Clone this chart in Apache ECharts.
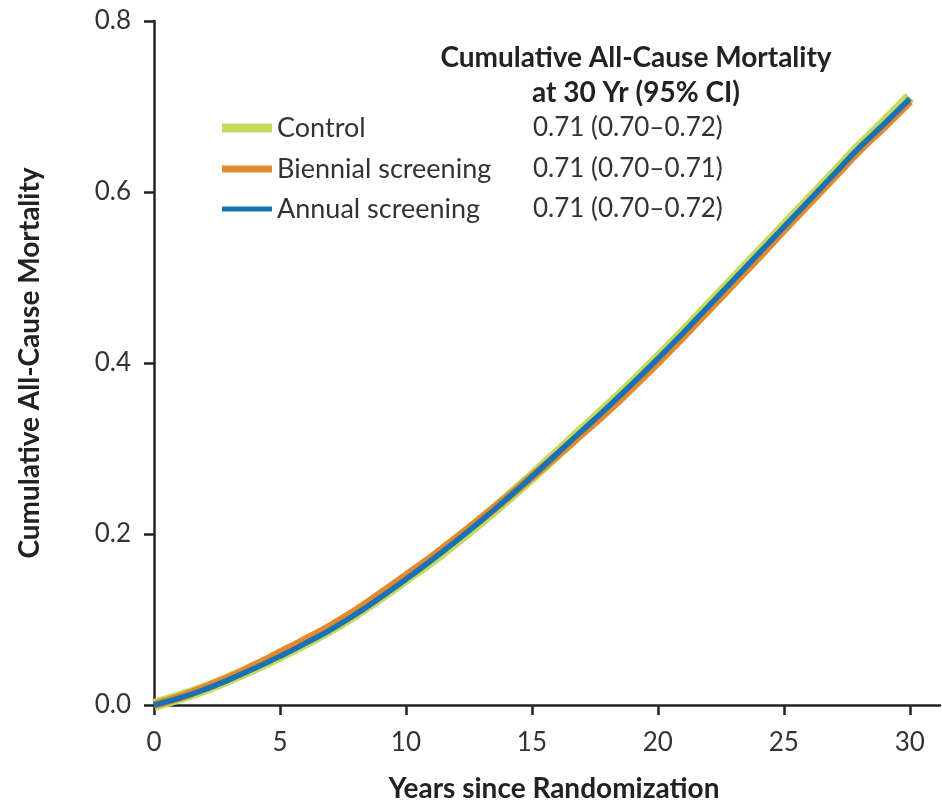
<!DOCTYPE html>
<html>
<head>
<meta charset="utf-8">
<script src="https://cdn.jsdelivr.net/npm/echarts@6/dist/echarts.min.js"></script>
<style>
  html, body { margin: 0; padding: 0; background: #fff; }
  #chart { width: 942px; height: 803px; }
</style>
</head>
<body>
<div id="chart"></div>
<script>
// years since randomization
var years = [0,1,2,3,4,5,6,7,8,9,10,11,12,13,14,15,16,17,18,19,20,21,22,23,24,25,26,27,28,29,30]
var control = [0.000,0.009,0.019,0.031,0.044,0.058,0.073,0.089,0.107,0.127,0.148,0.169,0.192,0.216,0.241,0.267,0.294,0.321,0.348,0.376,0.405,0.435,0.466,0.497,0.528,0.559,0.590,0.621,0.652,0.681,0.711]
var biennial = [0.000,0.009,0.020,0.032,0.046,0.061,0.076,0.092,0.110,0.130,0.151,0.172,0.195,0.218,0.242,0.267,0.292,0.318,0.344,0.372,0.401,0.431,0.462,0.493,0.524,0.556,0.587,0.618,0.649,0.677,0.706]
var annual = [0.000,0.008,0.018,0.030,0.043,0.057,0.072,0.088,0.106,0.126,0.147,0.169,0.192,0.216,0.241,0.267,0.294,0.321,0.348,0.376,0.405,0.435,0.466,0.497,0.528,0.559,0.590,0.621,0.652,0.680,0.709]
var xTicks = [0,5,10,15,20,25,30]
var names = ['Control','Biennial screening','Annual screening']
var ciText = ['0.71 (0.70\u20130.72)','0.71 (0.70\u20130.71)','0.71 (0.70\u20130.72)']
var colors = ['#c3da5c','#e4892c','#1a72b6']
var widths = [12,8.5,5.5]

function pairs(ys){
  return years.map(function(x,i){ return [x, ys[i]] })
}

var font = 'Lato, "Open Sans", sans-serif'
var legendTops = [123,164,204]
var legendHeights = [9,7,5]

var chart = echarts.init(document.getElementById('chart'))
var option = {
  animation: false,
  textStyle: { fontFamily: font },
  title: {
    text: 'Cumulative All-Cause Mortality\nat 30 Yr (95% CI)',
    left: 631, top: 35, textAlign: 'center',
    textStyle: { fontSize: 28, fontWeight: 'bold', color: '#222', lineHeight: 35, fontFamily: font }
  },
  legend: names.map(function(n,i){
    return {
      data: [n],
      left: 217, top: legendTops[i] - 16,
      icon: 'rect',
      itemWidth: 50, itemHeight: legendHeights[i],
      itemGap: 12,
      selectedMode: false,
      formatter: function(name){
        return '{n|' + name + '}{v|' + ciText[i] + '}'
      },
      textStyle: {
        color: '#333', fontSize: 27, lineHeight: 32,
        rich: {
          n: { fontSize: 27, width: 256, color: '#333', fontFamily: font, lineHeight: 32 },
          v: { fontSize: 26, color: '#333', fontFamily: font, lineHeight: 32 }
        }
      }
    }
  }),
  // v6 would otherwise shrink the grid to fit the labels
  grid: { left: 154, right: 2, top: 21, bottom: 98, containLabel: false, outerBoundsMode: 'none' },
  xAxis: {
    type: 'value', min: 0, max: 31.2,
    name: 'Years since Randomization',
    nameLocation: 'middle', nameGap: 70,
    nameTextStyle: { fontSize: 28, fontWeight: 'bold', color: '#222', padding: [0,0,0,14] },
    axisLine: { lineStyle: { color: '#222', width: 2.5 } },
    axisTick: { show: true, length: 10, lineStyle: { color: '#222', width: 2.5 }, customValues: xTicks },
    axisLabel: { fontSize: 26, color: '#333', margin: 25, customValues: xTicks },
    splitLine: { show: false }
  },
  yAxis: {
    type: 'value', min: 0, max: 0.8, interval: 0.2,
    name: 'Cumulative All-Cause Mortality',
    nameLocation: 'middle', nameGap: 110,
    nameTextStyle: { fontSize: 28, fontWeight: 'bold', color: '#222' },
    axisLine: { show: true, lineStyle: { color: '#222', width: 2.5 } },
    axisTick: { show: true, length: 10, lineStyle: { color: '#222', width: 2.5 } },
    axisLabel: { fontSize: 26, color: '#333', margin: 23, formatter: function(v){ return v.toFixed(1) } },
    splitLine: { show: false }
  },
  series: [control, biennial, annual].map(function(d,i){
    return {
      name: names[i], type: 'line', data: pairs(d),
      showSymbol: false, smooth: true, z: 2 + i,
      color: colors[i],
      lineStyle: { color: colors[i], width: widths[i] }
    }
  })
}
chart.setOption(option)
</script>
</body>
</html>
